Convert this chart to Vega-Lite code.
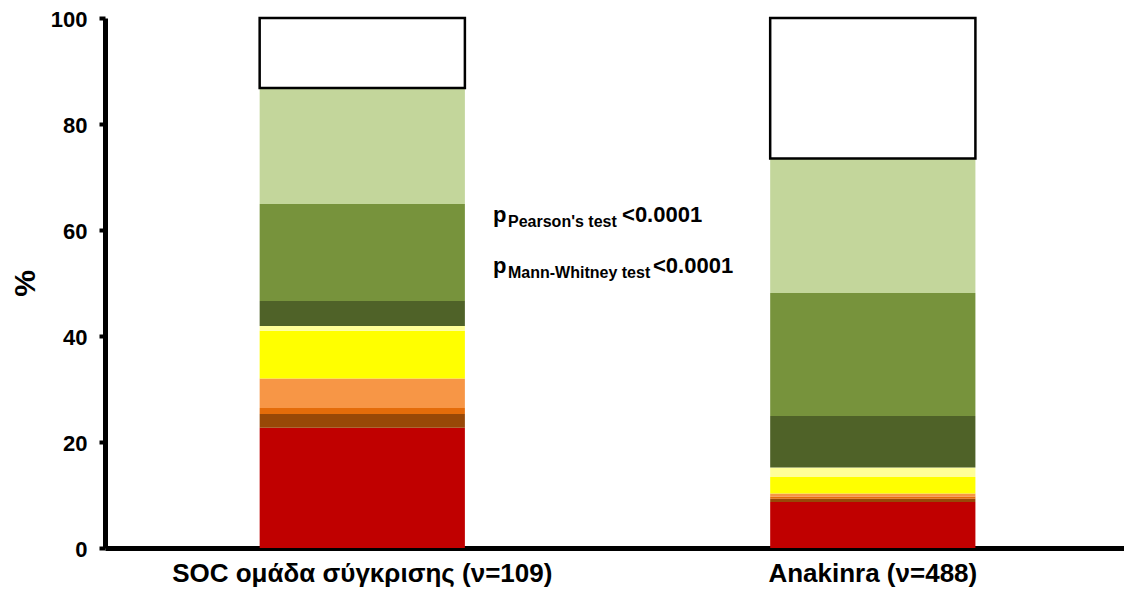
{
  "$schema": "https://vega.github.io/schema/vega-lite/v6.json",
  "autosize": "none",
  "width": 1019,
  "height": 530,
  "padding": {"left": 105, "top": 18, "right": 0, "bottom": 50},
  "background": "white",
  "config": {
    "view": {"stroke": null},
    "font": "Liberation Sans",
    "axis": {"grid": false, "domainColor": "black", "labelColor": "black", "titleColor": "black", "labelFont": "Liberation Sans", "titleFont": "Liberation Sans"}
  },
  "datasets": {
    "outcome": [
      {"group": "SOC ομάδα σύγκρισης (ν=109)", "grade": 1, "pct": 22.7},
      {"group": "SOC ομάδα σύγκρισης (ν=109)", "grade": 2, "pct": 2.6},
      {"group": "SOC ομάδα σύγκρισης (ν=109)", "grade": 3, "pct": 1.1},
      {"group": "SOC ομάδα σύγκρισης (ν=109)", "grade": 4, "pct": 5.6},
      {"group": "SOC ομάδα σύγκρισης (ν=109)", "grade": 5, "pct": 9.0},
      {"group": "SOC ομάδα σύγκρισης (ν=109)", "grade": 6, "pct": 0.9},
      {"group": "SOC ομάδα σύγκρισης (ν=109)", "grade": 7, "pct": 4.7},
      {"group": "SOC ομάδα σύγκρισης (ν=109)", "grade": 8, "pct": 18.3},
      {"group": "SOC ομάδα σύγκρισης (ν=109)", "grade": 9, "pct": 21.9},
      {"group": "SOC ομάδα σύγκρισης (ν=109)", "grade": 10, "pct": 13.2},
      {"group": "Anakinra (ν=488)", "grade": 1, "pct": 8.7},
      {"group": "Anakinra (ν=488)", "grade": 2, "pct": 0.6},
      {"group": "Anakinra (ν=488)", "grade": 3, "pct": 0.4},
      {"group": "Anakinra (ν=488)", "grade": 4, "pct": 0.6},
      {"group": "Anakinra (ν=488)", "grade": 5, "pct": 3.1},
      {"group": "Anakinra (ν=488)", "grade": 6, "pct": 1.8},
      {"group": "Anakinra (ν=488)", "grade": 7, "pct": 9.7},
      {"group": "Anakinra (ν=488)", "grade": 8, "pct": 23.2},
      {"group": "Anakinra (ν=488)", "grade": 9, "pct": 25.4},
      {"group": "Anakinra (ν=488)", "grade": 10, "pct": 26.5}
    ],
    "pMain": [
      {"px": 38.08, "py": 61.57, "label": "p"},
      {"px": 50.74, "py": 61.57, "label": "<0.0001"},
      {"px": 38.08, "py": 51.83, "label": "p"},
      {"px": 53.78, "py": 51.83, "label": "<0.0001"}
    ],
    "pSub": [
      {"px": 39.55, "py": 60.62, "label": "Pearson's test"},
      {"px": 39.55, "py": 50.89, "label": "Mann-Whitney test"}
    ]
  },
  "layer": [
    {
      "data": {"name": "outcome"},
      "mark": {"type": "bar", "strokeWidth": 2.5},
      "encoding": {
        "x": {
          "field": "group",
          "type": "nominal",
          "sort": null,
          "scale": {"paddingInner": 0.598, "paddingOuter": 0.297, "align": 0.51},
          "axis": {
            "title": null,
            "labelAngle": 0,
            "labelFontSize": 26,
            "labelFontWeight": "bold",
            "labelPadding": 12,
            "labelLimit": 0,
            "ticks": false,
            "tickSize": 0,
            "domainWidth": 5
          }
        },
        "y": {
          "field": "pct",
          "type": "quantitative",
          "stack": "zero",
          "scale": {"domain": [0, 100], "nice": false},
          "axis": {
            "title": "%",
            "titleFontSize": 30,
            "titleFontWeight": "bold",
            "titlePadding": 10,
            "values": [0, 20, 40, 60, 80, 100],
            "labelFontSize": 22,
            "labelFontWeight": "bold",
            "labelPadding": 12,
            "labelOffset": 1,
            "tickSize": 6,
            "tickWidth": 4,
            "tickColor": "black",
            "domainWidth": 5
          }
        },
        "order": {"field": "grade", "type": "quantitative", "sort": "ascending"},
        "color": {
          "field": "grade",
          "type": "ordinal",
          "legend": null,
          "scale": {
            "domain": [1, 2, 3, 4, 5, 6, 7, 8, 9, 10],
            "range": ["#C00000", "#984807", "#E46C0A", "#F79646", "#FFFF00", "#FFFF99", "#4F6228", "#77933C", "#C3D69B", "#FFFFFF"]
          }
        },
        "stroke": {
          "condition": {"test": "datum.grade === 10", "value": "black"},
          "value": null
        }
      }
    },
    {
      "data": {"name": "pMain"},
      "mark": {"type": "text", "align": "left", "baseline": "alphabetic", "fontSize": 22, "fontWeight": "bold", "color": "black", "font": "Liberation Sans"},
      "encoding": {
        "x": {"field": "px", "type": "quantitative", "scale": {"domain": [0, 100], "nice": false, "zero": false}, "axis": null},
        "y": {"field": "py", "type": "quantitative"},
        "text": {"field": "label"}
      }
    },
    {
      "data": {"name": "pSub"},
      "mark": {"type": "text", "align": "left", "baseline": "alphabetic", "fontSize": 16, "fontWeight": "bold", "color": "black", "font": "Liberation Sans"},
      "encoding": {
        "x": {"field": "px", "type": "quantitative", "scale": {"domain": [0, 100], "nice": false, "zero": false}, "axis": null},
        "y": {"field": "py", "type": "quantitative"},
        "text": {"field": "label"}
      }
    }
  ],
  "resolve": {"scale": {"x": "independent"}, "axis": {"x": "independent"}}
}
